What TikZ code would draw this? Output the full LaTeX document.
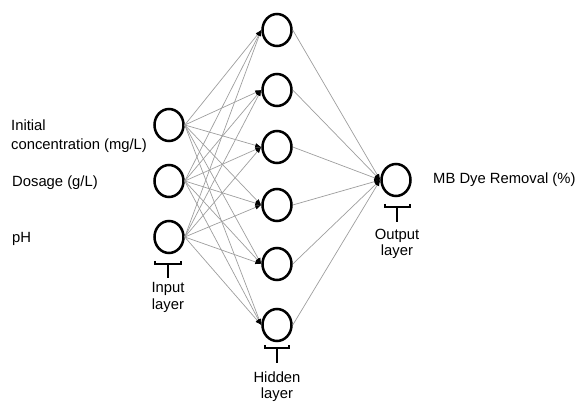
\documentclass[tikz,border=0pt]{standalone}
\usepackage{fontspec}
\setmainfont{Liberation Sans}
\usetikzlibrary{arrows.meta,shapes.geometric}
\begin{document}
\begin{tikzpicture}[x=1pt,y=-1pt,
  neuron/.style={draw=black,line width=2.5pt,ellipse,minimum width=29pt,minimum height=32pt,inner sep=0pt},
  conn/.style={draw=black!38,line width=0.7pt,-{Latex[length=6pt,width=4.5pt,black]}},
  lbl/.style={font=\fontsize{14.8}{18}\selectfont,inner sep=0pt},
  brace/.style={line width=1.8pt}]
\useasboundingbox (0,0) rectangle (576,403);
% input layer
\node[neuron] (i1) at (169,125) {};
\node[neuron] (i2) at (169,181) {};
\node[neuron] (i3) at (169,237) {};
% hidden layer
\foreach \k/\yy in {1/30,2/90,3/147,4/205,5/264,6/325}
  \node[neuron] (h\k) at (277,\yy) {};
% output
\node[neuron] (o) at (396,180) {};
% connections
\foreach \i in {1,2,3}
  \foreach \k in {1,...,6}
    \draw[conn] (i\i.east) -- (h\k.west);
\foreach \k in {1,...,6}
  \draw[conn] (h\k.east) -- (o.west);
% labels
\node[lbl,anchor=base west] (t1a) at (11,131) {Initial};
\node[lbl,anchor=base west] (t1b) at (11,150) {concentration (mg/L)};
\node[lbl,anchor=base west] (t2) at (12,187) {Dosage (g/L)};
\node[lbl,anchor=base west] (t3) at (12,243) {pH};
\node[lbl,anchor=base west] (t4) at (433,184) {MB Dye Removal (\%)};
% brackets
\draw[brace] (155,261) -- (155,264) -- (181,264) -- (181,261);
\draw[brace] (168,264) -- (168,278);
\node[lbl,anchor=base] (li1) at (168,293) {Input};
\node[lbl,anchor=base] (li2) at (168,310) {layer};
\draw[brace] (265,345) -- (265,348) -- (289,348) -- (289,345);
\draw[brace] (277,348) -- (277,363);
\node[lbl,anchor=base] (lh1) at (277,383) {Hidden};
\node[lbl,anchor=base] (lh2) at (277,399) {layer};
\draw[brace] (385,204) -- (385,207) -- (410,207) -- (410,204);
\draw[brace] (397,207) -- (397,222);
\node[lbl,anchor=base] (lo1) at (397,240) {Output};
\node[lbl,anchor=base] (lo2) at (397,256) {layer};
\end{tikzpicture}
\end{document}
